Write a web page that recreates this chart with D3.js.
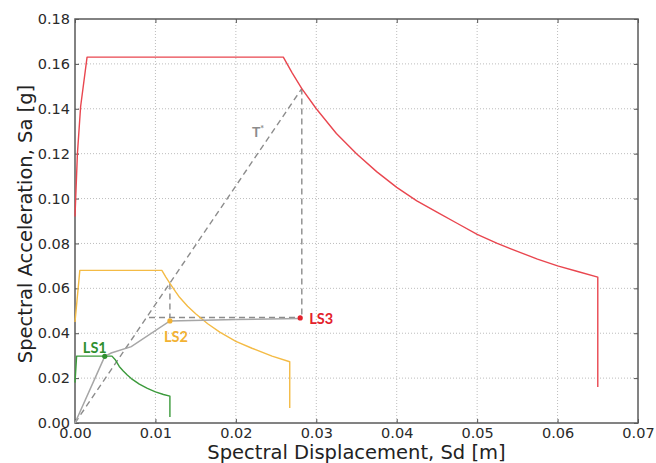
<!DOCTYPE html>
<html>
<head>
<meta charset="utf-8">
<script src="https://cdn.jsdelivr.net/npm/d3@7"></script>
<style>
  html, body { margin: 0; padding: 0; background: #fff; }
  svg { display: block; }
</style>
</head>
<body>
<svg id="chart" width="656" height="463"></svg>
<script>
// Axis ticks
const sdTicks = [0, 0.01, 0.02, 0.03, 0.04, 0.05, 0.06, 0.07];
const saTicks = [0, 0.02, 0.04, 0.06, 0.08, 0.10, 0.12, 0.14, 0.16, 0.18];

// LS3 demand spectrum
const ls3Sd = [0, 0.0003, 0.0007, 0.0015, 0.0259, 0.0270, 0.0282, 0.0300, 0.0325, 0.0350, 0.0375, 0.0400, 0.0425, 0.0450, 0.0475, 0.0500, 0.0525, 0.0550, 0.0575, 0.0600, 0.0625, 0.0650, 0.0650];
const ls3Sa = [0.092, 0.120, 0.141, 0.163, 0.163, 0.156, 0.149, 0.140, 0.129, 0.120, 0.112, 0.105, 0.099, 0.094, 0.089, 0.084, 0.080, 0.0765, 0.073, 0.070, 0.0675, 0.065, 0.016];

// LS2 demand spectrum
const ls2Sd = [0, 0.0006, 0.0108, 0.0113, 0.0118, 0.0125, 0.0130, 0.0140, 0.0150, 0.0165, 0.0180, 0.0200, 0.0220, 0.0245, 0.0267, 0.0267];
const ls2Sa = [0.045, 0.068, 0.068, 0.0650, 0.0622, 0.0585, 0.0560, 0.0520, 0.0487, 0.0442, 0.0405, 0.0364, 0.0333, 0.0298, 0.0273, 0.0067];

// LS1 demand spectrum
const ls1Sd = [0, 0.0002, 0.0046, 0.0050, 0.0055, 0.0060, 0.0065, 0.0070, 0.0080, 0.0090, 0.0100, 0.0110, 0.0118, 0.0118];
const ls1Sa = [0.018, 0.0298, 0.0298, 0.0282, 0.0252, 0.0232, 0.0214, 0.0198, 0.0173, 0.0154, 0.0139, 0.0127, 0.0120, 0.0027];

// Capacity curve
const capSd = [0, 0.0037, 0.0045, 0.0070, 0.0118, 0.0200, 0.0280];
const capSa = [0, 0.0297, 0.0312, 0.0340, 0.0455, 0.0461, 0.0466];

// Performance points
const pointNames = ["LS1", "LS2", "LS3"];
const pointSd = [0.0037, 0.0118, 0.0280];
const pointSa = [0.0297, 0.0455, 0.0468];
const pointColors = ["#2f8f2f", "#f2b233", "#e3212b"];

// Dashed construction lines: T* period line and projections
const guideLines = [
  { sd: [0, 0.0282], sa: [0, 0.149] },
  { sd: [0.0282, 0.0282], sa: [0.149, 0.0470] },
  { sd: [0.0092, 0.0282], sa: [0.0470, 0.0470] },
  { sd: [0.0118, 0.0118], sa: [0.0622, 0.0470] }
];

const W = 656, H = 463;
const m = { left: 75, right: 18, top: 19, bottom: 40 };
const iw = W - m.left - m.right, ih = H - m.top - m.bottom;

const svg = d3.select("#chart");
const g = svg.append("g").attr("transform", `translate(${m.left},${m.top})`);

const x = d3.scaleLinear().domain([0, 0.07]).range([0, iw]);
const y = d3.scaleLinear().domain([0, 0.18]).range([ih, 0]);

// dotted grid
g.append("g").selectAll("line").data(sdTicks.slice(1, -1)).join("line")
  .attr("x1", d => x(d)).attr("x2", d => x(d)).attr("y1", 0).attr("y2", ih)
  .attr("stroke", "#bdbdbd").attr("stroke-width", 1).attr("stroke-dasharray", "1,2");
g.append("g").selectAll("line").data(saTicks.slice(1, -1)).join("line")
  .attr("y1", d => y(d)).attr("y2", d => y(d)).attr("x1", 0).attr("x2", iw)
  .attr("stroke", "#bdbdbd").attr("stroke-width", 1).attr("stroke-dasharray", "1,2");

const fmt = d3.format(".2f");
const tickFont = "DejaVu Sans, sans-serif";

function styleAxis(sel) {
  sel.select(".domain").remove();
  sel.selectAll(".tick line").attr("stroke", "#555").attr("stroke-width", 1);
  sel.selectAll(".tick text").attr("fill", "#2a2a2a").style("font-family", tickFont).style("font-size", "14.5px");
}

g.append("g").attr("transform", `translate(0,${ih})`)
  .call(d3.axisBottom(x).tickValues(sdTicks).tickFormat(fmt).tickSizeInner(-4).tickSizeOuter(0).tickPadding(5))
  .call(styleAxis);
g.append("g")
  .call(d3.axisLeft(y).tickValues(saTicks).tickFormat(fmt).tickSizeInner(-4).tickSizeOuter(0).tickPadding(5))
  .call(styleAxis);
g.append("g")
  .call(d3.axisTop(x).tickValues(sdTicks).tickFormat("").tickSizeInner(-4).tickSizeOuter(0))
  .call(styleAxis);
g.append("g").attr("transform", `translate(${iw},0)`)
  .call(d3.axisRight(y).tickValues(saTicks).tickFormat("").tickSizeInner(-4).tickSizeOuter(0))
  .call(styleAxis);

// plot frame
g.append("rect").attr("x", 0).attr("y", 0).attr("width", iw).attr("height", ih)
  .attr("fill", "none").attr("stroke", "#5a5a5a").attr("stroke-width", 1.5);

const line = d3.line().x(d => x(d[0])).y(d => y(d[1]));
const zip = (a, b) => a.map((v, i) => [v, b[i]]);

// construction lines
guideLines.forEach(gl => {
  g.append("path").attr("d", line(zip(gl.sd, gl.sa)))
    .attr("fill", "none").attr("stroke", "#8c8c8c").attr("stroke-width", 1.4)
    .attr("stroke-dasharray", "6,4");
});

// demand spectra
[[ls3Sd, ls3Sa, "#e9464f"], [ls2Sd, ls2Sa, "#f4bb45"], [ls1Sd, ls1Sa, "#3b9a3b"]].forEach(([sd, sa, c]) => {
  g.append("path").attr("d", line(zip(sd, sa)))
    .attr("fill", "none").attr("stroke", c).attr("stroke-width", 1.4).attr("stroke-linejoin", "round");
});

// capacity curve
g.append("path").attr("d", line(zip(capSd, capSa)))
  .attr("fill", "none").attr("stroke", "#a6a6a6").attr("stroke-width", 1.5);

// performance points and labels
const labelOffsets = [[2, -3, "end"], [-6, 21, "start"], [9, 6, "start"]];
pointNames.forEach((name, i) => {
  const px = x(pointSd[i]), py = y(pointSa[i]);
  g.append("circle").attr("cx", px).attr("cy", py).attr("r", 2.6).attr("fill", pointColors[i]);
  g.append("text").attr("x", px + labelOffsets[i][0]).attr("y", py + labelOffsets[i][1])
    .attr("text-anchor", labelOffsets[i][2]).attr("fill", pointColors[i])
    .style("font-family", "Lato, sans-serif").style("font-weight", "bold").style("font-size", "14.5px")
    .text(name);
});

// T* label
const tLabel = g.append("text").attr("x", x(0.0220)).attr("y", y(0.1275))
  .attr("fill", "#8c8c8c").style("font-family", "Lato, sans-serif").style("font-weight", "bold").style("font-size", "14px");
tLabel.append("tspan").text("T");
tLabel.append("tspan").attr("dy", -5).style("font-size", "9px").text("*");

// axis titles
svg.append("text").attr("x", m.left + iw / 2).attr("y", 459).attr("text-anchor", "middle")
  .attr("fill", "#222").style("font-family", tickFont).style("font-size", "19.5px")
  .text("Spectral Displacement, Sd [m]");
svg.append("text").attr("transform", `translate(32,${m.top + ih / 2 + 3}) rotate(-90)`).attr("text-anchor", "middle")
  .attr("fill", "#222").style("font-family", tickFont).style("font-size", "19.5px")
  .text("Spectral Acceleration, Sa [g]");
</script>
</body>
</html>
